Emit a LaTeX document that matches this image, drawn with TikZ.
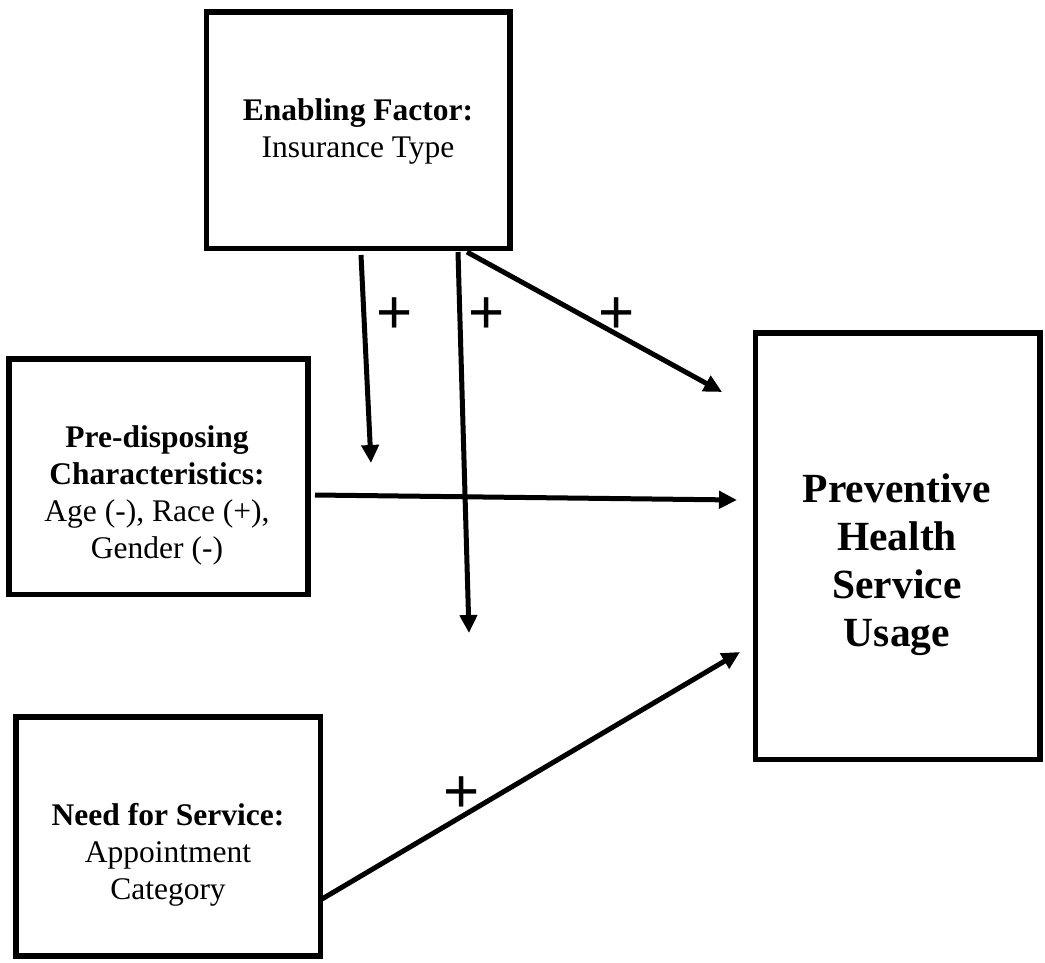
\documentclass[tikz,border=0pt]{standalone}
\usepackage{fontspec}
\setmainfont{Liberation Serif}
\newfontfamily\plusfont{Liberation Sans}
\usetikzlibrary{arrows.meta}
\begin{document}
\begin{tikzpicture}[x=1pt,y=-1pt,
  box/.style={draw, line width=5.5pt, inner sep=0pt, rectangle},
  lbl/.style={align=center, inner sep=0pt, font=\fontsize{31.5}{37}\selectfont},
  big/.style={align=center, inner sep=0pt, font=\fontsize{41.5}{48}\selectfont\bfseries},
  conn/.style={line width=5pt, -{Triangle[length=18pt,width=17pt]}},
  plussign/.style={anchor=base, inner sep=0pt, font=\plusfont\fontsize{62}{62}\selectfont}]
\useasboundingbox (0,0) rectangle (1045,962);
% boxes
\node[box, minimum width=303.5pt, minimum height=236.5pt] (enab) at (358.25,130.25) {};
\node[box, minimum width=299pt, minimum height=235.5pt] (pre) at (158.5,476.75) {};
\node[box, minimum width=284.5pt, minimum height=426.5pt] (prev) at (897.75,546.25) {};
\node[box, minimum width=304.5pt, minimum height=239pt] (need) at (168.25,836.5) {};
% texts
\node[lbl] (enabtxt) at (358,131) {\textbf{Enabling Factor:}\\Insurance Type};
\node[lbl] (pretxt) at (157,495) {\textbf{Pre-disposing}\\\textbf{Characteristics:}\\Age (-), Race (+),\\Gender (-)};
\node[lbl] (needtxt) at (168,855) {\textbf{Need for Service:}\\Appointment\\Category};
\node[big] (prevtxt) at (897,565) {Preventive\\Health\\Service\\Usage};
% connector ends
\coordinate (s1) at (361,255); \coordinate (t1) at (371,463);
\coordinate (s2) at (458,252); \coordinate (t2) at (469,633);
\coordinate (s3) at (467,252); \coordinate (t3) at (722,392);
\coordinate (s4) at (315,495); \coordinate (t4) at (737,500);
\coordinate (s5) at (322,899); \coordinate (t5) at (740,652);
% connectors
\draw[conn] (s1) -- (t1);
\draw[conn] (s2) -- (t2);
\draw[conn] (s3) -- (t3);
\draw[conn] (s4) -- (t4);
\draw[conn] (s5) -- (t5);
% signs
\node[plussign] (p1) at (395,333.5) {+};
\node[plussign] (p2) at (487,333.5) {+};
\node[plussign] (p3) at (617,333.5) {+};
\node[plussign] (p4) at (462,812.5) {+};
\end{tikzpicture}
\end{document}
